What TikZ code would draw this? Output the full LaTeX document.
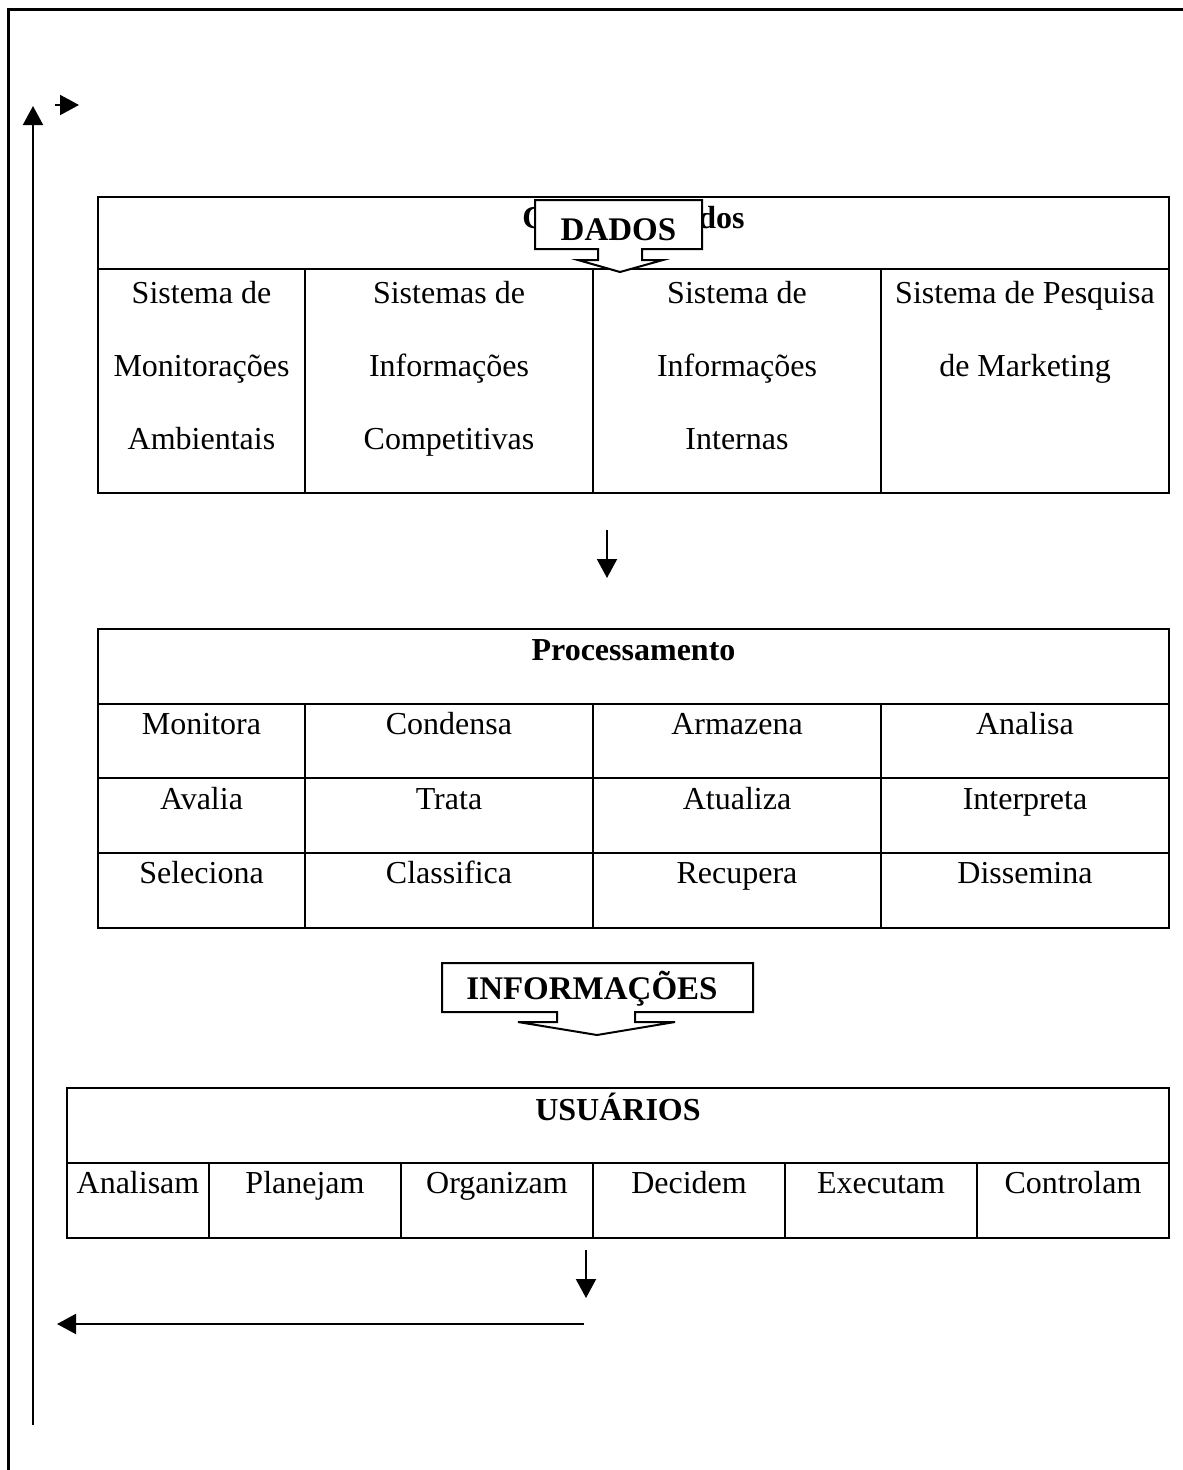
\documentclass[tikz,border=0pt]{standalone}
\usepackage{fontspec}
\setmainfont{Liberation Serif}
\usetikzlibrary{arrows.meta}
\begin{document}
\begin{tikzpicture}[x=1pt,y=-1pt,
  tbl/.style={line width=2.5pt},
  frameline/.style={line width=3pt},
  cell/.style={inner sep=0pt, anchor=base, font=\fontsize{32}{38}\selectfont},
  hdr/.style={inner sep=0pt, anchor=base, font=\fontsize{32}{38}\selectfont\bfseries},
  ctext/.style={inner sep=0pt, anchor=base, font=\fontsize{33}{38}\selectfont\bfseries},
  arr/.style={line width=2pt, -{Triangle[length=19pt,width=20pt]}},
  callout/.style={line width=2pt, fill=white, line join=miter}]
\useasboundingbox (0,0) rectangle (1183,1470);

% page frame (top and left edges)
\draw[frameline] (8,1470) -- (8,9) -- (1183,9);

% ---------- Coleta de Dados ----------
\draw[tbl] (98,197) rectangle (1169,493);
\draw[tbl] (98,269) -- (1169,269);
\foreach \x in {305,593,881} \draw[tbl] (\x,269) -- (\x,493);
\node[hdr] (coleta) at (633.5,228) {Coleta de Dados};

\node[cell] (c11) at (201.5,303) {Sistema de};
\node[cell] (c12) at (201.5,376) {Monitorações};
\node[cell] (c13) at (201.5,449) {Ambientais};
\node[cell] (c21) at (449,303) {Sistemas de};
\node[cell] (c22) at (449,376) {Informações};
\node[cell] (c23) at (449,449) {Competitivas};
\node[cell] (c31) at (737,303) {Sistema de};
\node[cell] (c32) at (737,376) {Informações};
\node[cell] (c33) at (737,449) {Internas};
\node[cell] (c41) at (1025,303) {Sistema de Pesquisa};
\node[cell] (c42) at (1025,376) {de Marketing};

% DADOS callout
\draw[callout] (535,200) -- (702,200) -- (702,249) -- (642,249) -- (642,260)
  -- (663,260) -- (620,272) -- (578,260) -- (598,260) -- (598,249)
  -- (535,249) -- cycle;
\node[ctext] (dados) at (618.5,240) {DADOS};

% arrow to processing
\coordinate (p1a) at (607,530);
\coordinate (p1b) at (607,578);
\draw[arr] (p1a) -- (p1b);

% ---------- Processamento ----------
\draw[tbl] (98,629) rectangle (1169,928);
\foreach \y in {704,778,853} \draw[tbl] (98,\y) -- (1169,\y);
\foreach \x in {305,593,881} \draw[tbl] (\x,704) -- (\x,928);
\node[hdr] (proc) at (633.5,660) {Processamento};

\node[cell] (m11) at (201.5,734) {Monitora};
\node[cell] (m12) at (449,734) {Condensa};
\node[cell] (m13) at (737,734) {Armazena};
\node[cell] (m14) at (1025,734) {Analisa};
\node[cell] (m21) at (201.5,809) {Avalia};
\node[cell] (m22) at (449,809) {Trata};
\node[cell] (m23) at (737,809) {Atualiza};
\node[cell] (m24) at (1025,809) {Interpreta};
\node[cell] (m31) at (201.5,883) {Seleciona};
\node[cell] (m32) at (449,883) {Classifica};
\node[cell] (m33) at (737,883) {Recupera};
\node[cell] (m34) at (1025,883) {Dissemina};

% INFORMAÇÕES callout
\draw[callout] (442,963) -- (753,963) -- (753,1012) -- (635,1012) -- (635,1022)
  -- (675,1022) -- (597,1035) -- (518,1022) -- (557,1022) -- (557,1012)
  -- (442,1012) -- cycle;
\node[ctext] (info) at (592,999) {INFORMAÇÕES};

% ---------- Usuários ----------
\draw[tbl] (67,1088) rectangle (1169,1238);
\draw[tbl] (67,1163) -- (1169,1163);
\foreach \x in {209,401,593,785,977} \draw[tbl] (\x,1163) -- (\x,1238);
\node[hdr] (usu) at (618,1120) {USUÁRIOS};

\node[cell] (u1) at (138,1193) {Analisam};
\node[cell] (u2) at (305,1193) {Planejam};
\node[cell] (u3) at (497,1193) {Organizam};
\node[cell] (u4) at (689,1193) {Decidem};
\node[cell] (u5) at (881,1193) {Executam};
\node[cell] (u6) at (1073,1193) {Controlam};

% feedback loop
\coordinate (f1) at (586,1250);
\coordinate (f2) at (586,1298);
\draw[arr] (f1) -- (f2);
\coordinate (h1) at (584,1324);
\coordinate (h2) at (57,1324);
\draw[arr] (h1) -- (h2);
\coordinate (v1) at (33,1425);
\coordinate (v2) at (33,106);
\draw[arr] (v1) -- (v2);
\coordinate (s1) at (55,105);
\coordinate (s2) at (79,105);
\draw[arr] (s1) -- (s2);
\end{tikzpicture}
\end{document}
